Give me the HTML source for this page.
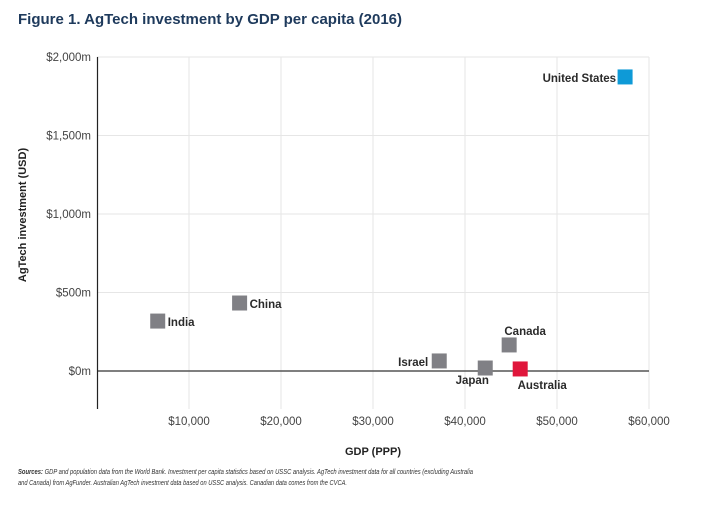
<!DOCTYPE html>
<html><head><meta charset="utf-8"><style>
body{margin:0;background:#fff;font-family:"Liberation Sans",Arial,sans-serif}
svg text{font-family:"Liberation Sans",Arial,sans-serif}
</style></head><body>
<svg width="707" height="510" viewBox="0 0 707 510">
<text x="18" y="24" font-size="15" font-weight="bold" fill="#1e3a5c">Figure 1. AgTech investment by GDP per capita (2016)</text>
<g id="grid"></g>
<g id="axes"></g>
<g id="marks"></g>
<text x="373" y="455" font-size="11" font-weight="bold" fill="#222" text-anchor="middle">GDP (PPP)</text>
<text transform="translate(26,215) rotate(-90)" font-size="11" font-weight="bold" fill="#222" text-anchor="middle">AgTech investment (USD)</text>
<text x="18" y="474" font-size="7.2" font-style="italic" fill="#333" textLength="455" lengthAdjust="spacingAndGlyphs"><tspan font-weight="bold">Sources:</tspan> GDP and population data from the World Bank. Investment per capita statistics based on USSC analysis. AgTech investment data for all countries (excluding Australia</text>
<text x="18" y="485" font-size="7.2" font-style="italic" fill="#333" textLength="329" lengthAdjust="spacingAndGlyphs">and Canada) from AgFunder. Australian AgTech investment data based on USSC analysis. Canadian data comes from the CVCA.</text>
</svg>
<script>
const countries=["United States","China","India","Israel","Japan","Canada","Australia"];
const gdp=[57400,15500,6600,37200,42200,44800,46000];
const invest=[1873,433,318,64,19,166,13];
const colors=["#0e9ad7","#808085","#808085","#808085","#808085","#808085","#e0163b"];
const xTicks=[10000,20000,30000,40000,50000,60000];
const xTickLabels=["$10,000","$20,000","$30,000","$40,000","$50,000","$60,000"];
const yTicks=[0,500,1000,1500,2000];
const yTickLabels=["$0m","$500m","$1,000m","$1,500m","$2,000m"];
const NS="http://www.w3.org/2000/svg";
function X(v){return 97+v*(552/60000);}
function Y(v){return 371-v*(314/2000);}
function mk(tag,attrs,parent,txt){const e=document.createElementNS(NS,tag);for(const k in attrs)e.setAttribute(k,attrs[k]);if(txt!==undefined)e.textContent=txt;document.getElementById(parent).appendChild(e);return e;}
xTicks.forEach((t,i)=>{
 const l=mk("line",{x1:X(t),x2:X(t),y1:57,y2:409,stroke:"#e6e6e6","stroke-width":1},"grid");
 
 
 const tx=mk("text",{x:X(t),y:425,"font-size":11.5,fill:"#444","text-anchor":"middle"},"axes",xTickLabels[i]);
 
 
});
yTicks.forEach((t,i)=>{
 if(t!==0){const l=mk("line",{x1:97,x2:X(60000),y1:Y(t),y2:Y(t),stroke:"#e6e6e6","stroke-width":1},"grid");
 
 }
 const tx=mk("text",{x:91,y:Y(t)+4,"font-size":11.5,fill:"#444","text-anchor":"end"},"axes",yTickLabels[i]);
 
 
});
const za=mk("line",{x1:97,x2:X(60000),y1:Y(0),y2:Y(0),stroke:"#555","stroke-width":1.5},"axes");


const ya=mk("line",{x1:97.5,x2:97.5,y1:57,y2:409,stroke:"#222","stroke-width":1.2},"axes");


const lab={"United States":[-9,5,"end"],"China":[10,5,"start"],"India":[10,5,"start"],"Israel":[-11,5,"end"],"Japan":[-13,16,"middle"],"Canada":[16,-10,"middle"],"Australia":[22,20,"middle"]};
countries.forEach((c,i)=>{
 const cx=X(gdp[i]),cy=Y(invest[i]);
 const r=mk("rect",{x:cx-7.5,y:cy-7.5,width:15,height:15,fill:colors[i]},"marks");
 
 
 const o=lab[c];
 const t=mk("text",{x:cx+o[0],y:cy+o[1],"font-size":11.5,"font-weight":"bold",fill:"#2a2a2a","text-anchor":o[2]},"marks",c);
 
 
});
</script>
</body></html>
